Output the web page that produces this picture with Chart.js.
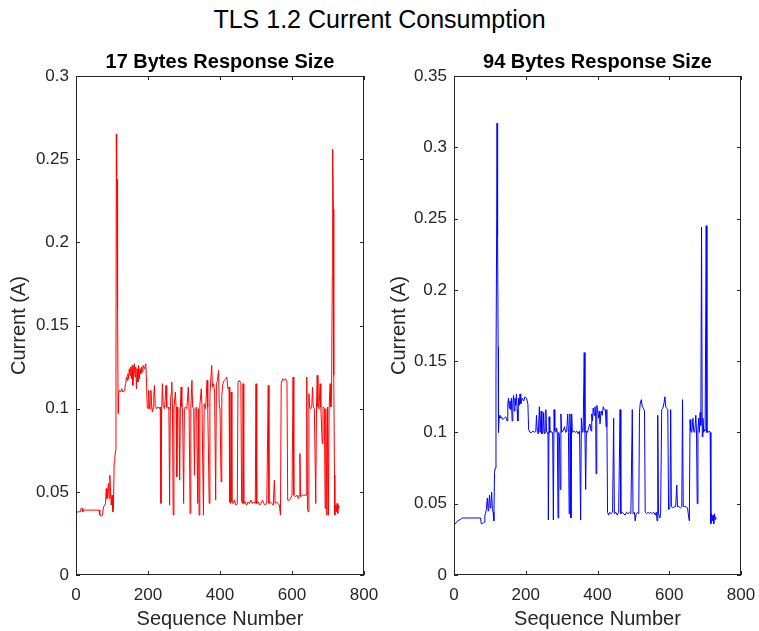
<!DOCTYPE html>
<html>
<head>
<meta charset="utf-8">
<script src="https://cdn.jsdelivr.net/npm/chart.js@4.4.1/dist/chart.umd.min.js"></script>
<style>
  body { margin: 0; background: #fff; width: 759px; height: 631px; position: relative; overflow: hidden; }
  #mainTitle { position: absolute; left: 0; top: 4px; width: 759px; text-align: center;
    font-family: 'Liberation Sans', Arial, sans-serif; font-size: 25px; line-height: 30px; color: #000; }
  canvas { position: absolute; top: 0; }
</style>
</head>
<body>
<div id="mainTitle">TLS 1.2 Current Consumption</div>
<canvas id="left" width="380" height="631" style="left:0"></canvas>
<canvas id="right" width="379" height="631" style="left:380px"></canvas>
<script>
// tick values
const xTicks = [0, 200, 400, 600, 800];
const yTicks17 = [0, 0.05, 0.1, 0.15, 0.2, 0.25, 0.3];
const yTicks94 = [0, 0.05, 0.1, 0.15, 0.2, 0.25, 0.3, 0.35];

// [sequence number, current (A)]
const points17 = [
  [1,0.037],[4,0.038],[8,0.038],[12,0.038],[14,0.040],[17,0.040],[19,0.038],[22,0.039],[26,0.039],
  [35,0.039],[45,0.039],[55,0.039],[64,0.039],[66,0.036],[70,0.0355],[74,0.036],[76,0.041],[80,0.042],
  [82,0.043],[84,0.052],[86,0.046],[88,0.049],[90,0.055],[92,0.046],[94,0.060],[96,0.050],[98,0.042],
  [100,0.048],[102,0.038],[104,0.040],[106,0.068],[108,0.071],[110,0.075],[111,0.12],[112,0.265],
  [113,0.24],[114,0.20],[115,0.238],[116,0.16],[117,0.097],[118,0.108],[120,0.111],[124,0.110],
  [127,0.112],[130,0.110],[134,0.111],[136,0.113],[138,0.115],[140,0.119],[142,0.117],[144,0.121],
  [146,0.118],[148,0.124],[150,0.120],[152,0.125],[154,0.118],[156,0.126],[158,0.114],[160,0.122],
  [162,0.127],[164,0.119],[166,0.125],[168,0.112],[170,0.124],[172,0.116],[174,0.126],[176,0.118],
  [178,0.124],[180,0.121],[182,0.125],[184,0.122],[186,0.126],[190,0.124],[194,0.127],[196,0.115],
  [198,0.101],[200,0.100],[202,0.111],[204,0.101],[206,0.100],[208,0.111],[210,0.103],[212,0.098],
  [214,0.100],[216,0.108],[218,0.114],[220,0.102],[224,0.100],[228,0.101],[232,0.100],[234,0.101],
  [236,0.043],[238,0.100],[240,0.115],[242,0.102],[246,0.100],[250,0.114],[252,0.101],[256,0.100],
  [258,0.101],[260,0.042],[262,0.101],[264,0.109],[266,0.116],[268,0.101],[270,0.036],[272,0.100],
  [276,0.110],[278,0.101],[280,0.059],[282,0.101],[286,0.100],[288,0.057],[290,0.101],[292,0.113],
  [294,0.101],[296,0.100],[299,0.043],[301,0.100],[304,0.101],[308,0.100],[312,0.113],[314,0.101],
  [317,0.037],[319,0.100],[322,0.117],[324,0.101],[327,0.100],[329,0.060],[331,0.100],[335,0.101],
  [338,0.043],[340,0.100],[342,0.036],[344,0.102],[348,0.112],[350,0.101],[354,0.036],[356,0.103],
  [360,0.100],[364,0.117],[366,0.101],[370,0.043],[372,0.108],[374,0.116],[377,0.126],[379,0.113],
  [382,0.115],[385,0.110],[388,0.045],[390,0.115],[393,0.117],[396,0.123],[398,0.101],[400,0.100],
  [403,0.056],[405,0.108],[408,0.115],[412,0.117],[416,0.118],[419,0.119],[422,0.112],[425,0.113],
  [427,0.044],[429,0.043],[431,0.110],[433,0.044],[436,0.043],[440,0.045],[444,0.042],[448,0.043],
  [450,0.116],[454,0.117],[458,0.115],[460,0.044],[463,0.043],[464,0.115],[466,0.043],[470,0.044],
  [474,0.042],[478,0.044],[482,0.043],[486,0.045],[490,0.043],[494,0.044],[498,0.043],[500,0.115],
  [502,0.043],[506,0.044],[510,0.042],[514,0.043],[518,0.045],[522,0.043],[526,0.042],[530,0.044],
  [534,0.114],[536,0.043],[540,0.044],[544,0.043],[548,0.042],[551,0.057],[553,0.043],[557,0.044],
  [561,0.043],[565,0.042],[568,0.036],[570,0.115],[574,0.118],[578,0.117],[582,0.118],[586,0.116],
  [588,0.045],[592,0.045],[596,0.046],[600,0.048],[603,0.119],[605,0.048],[610,0.047],[614,0.048],
  [618,0.046],[620,0.048],[622,0.073],[624,0.047],[628,0.048],[632,0.048],[636,0.048],[640,0.048],
  [641,0.119],[643,0.040],[645,0.038],[647,0.109],[649,0.101],[652,0.100],[655,0.102],[657,0.113],
  [659,0.101],[662,0.100],[666,0.043],[668,0.101],[670,0.120],[672,0.101],[675,0.100],[678,0.115],
  [680,0.101],[684,0.079],[686,0.101],[690,0.100],[692,0.040],[694,0.100],[697,0.036],[699,0.101],
  [701,0.036],[703,0.100],[706,0.115],[708,0.101],[710,0.112],[712,0.18],[713,0.256],[715,0.22],
  [716,0.12],[718,0.06],[719,0.036],[721,0.042],[723,0.038],[725,0.043],[727,0.037],[729,0.042],
  [731,0.040]
];

const points94 = [
  [1,0.037],[4,0.036],[7,0.037],[10,0.038],[14,0.0385],[18,0.039],[24,0.040],[30,0.040],[40,0.040],
  [50,0.040],[60,0.040],[70,0.040],[74,0.040],[76,0.036],[80,0.036],[84,0.037],[86,0.042],[88,0.043],
  [90,0.046],[93,0.054],[95,0.045],[97,0.050],[99,0.056],[101,0.047],[103,0.050],[105,0.058],
  [107,0.046],[109,0.044],[111,0.038],[113,0.072],[115,0.075],[117,0.14],[119,0.25],[120,0.317],
  [121,0.27],[122,0.238],[123,0.16],[124,0.100],[126,0.112],[128,0.110],[132,0.111],[136,0.109],
  [140,0.110],[144,0.111],[146,0.110],[148,0.108],[150,0.120],[152,0.124],[154,0.117],[156,0.122],
  [158,0.116],[160,0.124],[162,0.108],[164,0.121],[166,0.126],[168,0.115],[170,0.124],[172,0.119],
  [174,0.127],[176,0.116],[178,0.108],[180,0.124],[182,0.119],[184,0.127],[186,0.120],[190,0.124],
  [194,0.122],[198,0.125],[202,0.124],[206,0.120],[208,0.102],[212,0.100],[216,0.100],[220,0.101],
  [224,0.100],[228,0.101],[230,0.112],[232,0.101],[235,0.099],[238,0.118],[240,0.100],[243,0.115],
  [245,0.099],[248,0.100],[250,0.114],[252,0.099],[254,0.100],[256,0.116],[258,0.101],[260,0.100],
  [262,0.099],[263,0.0386],[265,0.111],[267,0.100],[270,0.101],[272,0.100],[275,0.100],[277,0.0386],
  [279,0.116],[281,0.101],[284,0.100],[286,0.103],[288,0.100],[290,0.040],[292,0.100],[294,0.097],
  [296,0.060],[298,0.113],[300,0.100],[304,0.101],[308,0.104],[311,0.100],[314,0.101],[317,0.113],
  [319,0.100],[321,0.043],[323,0.113],[325,0.100],[326,0.040],[328,0.113],[330,0.100],[334,0.101],
  [338,0.100],[342,0.101],[346,0.099],[350,0.101],[353,0.0386],[355,0.110],[358,0.100],[360,0.101],
  [363,0.156],[365,0.100],[367,0.060],[369,0.101],[372,0.100],[376,0.104],[379,0.106],[382,0.101],
  [384,0.113],[386,0.108],[388,0.117],[391,0.112],[393,0.118],[395,0.110],[396,0.071],[398,0.119],
  [400,0.116],[403,0.110],[405,0.115],[407,0.106],[410,0.115],[413,0.112],[416,0.118],[419,0.116],
  [422,0.116],[424,0.104],[426,0.116],[428,0.044],[431,0.042],[434,0.044],[438,0.043],[442,0.044],
  [445,0.110],[447,0.043],[451,0.044],[455,0.042],[459,0.044],[463,0.116],[465,0.043],[469,0.044],
  [473,0.043],[477,0.042],[481,0.044],[485,0.043],[489,0.044],[493,0.043],[497,0.116],[499,0.043],
  [503,0.044],[505,0.038],[508,0.043],[512,0.044],[515,0.043],[517,0.114],[519,0.120],[522,0.123],
  [525,0.118],[528,0.117],[531,0.115],[533,0.044],[537,0.043],[541,0.044],[545,0.043],[549,0.044],
  [553,0.043],[557,0.044],[561,0.042],[564,0.044],[566,0.038],[568,0.112],[570,0.043],[574,0.040],
  [576,0.044],[579,0.116],[582,0.117],[585,0.120],[588,0.125],[590,0.118],[593,0.117],[596,0.116],
  [598,0.046],[602,0.047],[604,0.116],[606,0.048],[610,0.047],[614,0.048],[618,0.048],[621,0.063],
  [623,0.048],[627,0.048],[631,0.047],[635,0.048],[637,0.123],[639,0.048],[643,0.048],[647,0.048],
  [651,0.047],[653,0.043],[656,0.038],[658,0.109],[660,0.101],[663,0.100],[666,0.110],[668,0.101],
  [671,0.100],[674,0.112],[676,0.101],[678,0.050],[680,0.101],[682,0.110],[684,0.100],[686,0.114],
  [688,0.105],[690,0.244],[692,0.097],[694,0.110],[696,0.100],[698,0.102],[700,0.101],[703,0.245],
  [705,0.100],[707,0.101],[709,0.100],[712,0.101],[714,0.100],[716,0.036],[718,0.043],[720,0.038],
  [722,0.042],[724,0.036],[726,0.043],[728,0.039],[730,0.041]
];

Chart.defaults.font.family = "'Liberation Sans', Arial, sans-serif";
Chart.defaults.color = '#262626';

// matlab style box with inward ticks
const boxPlugin = {
  id: 'box',
  afterDraw(chart) {
    const {ctx, chartArea: a, scales: {x, y}} = chart;
    const tl = 4;
    ctx.save();
    ctx.strokeStyle = '#262626';
    ctx.lineWidth = 1;
    ctx.strokeRect(Math.round(a.left) + 0.5, Math.round(a.top) + 0.5,
      Math.round(a.right - a.left) - 1, Math.round(a.bottom - a.top) - 1);
    ctx.beginPath();
    x.ticks.forEach(t => {
      const px = Math.round(x.getPixelForValue(t.value)) + 0.5;
      ctx.moveTo(px, a.bottom); ctx.lineTo(px, a.bottom - tl);
      ctx.moveTo(px, a.top); ctx.lineTo(px, a.top + tl);
    });
    y.ticks.forEach(t => {
      const py = Math.round(y.getPixelForValue(t.value)) + 0.5;
      ctx.moveTo(a.left, py); ctx.lineTo(a.left + tl, py);
      ctx.moveTo(a.right, py); ctx.lineTo(a.right - tl, py);
    });
    ctx.stroke();
    ctx.restore();
  }
};

function makeChart(id, title, points, color, yTicks, yWidth, rightPad) {
  const yMax = yTicks[yTicks.length - 1];
  return new Chart(document.getElementById(id), {
    type: 'line',
    data: {
      datasets: [{
        data: points.map(p => ({x: p[0], y: p[1]})),
        borderColor: color,
        borderWidth: 1,
        pointRadius: 0,
        tension: 0,
        fill: false
      }]
    },
    options: {
      responsive: false,
      animation: false,
      layout: {padding: {left: 0, right: rightPad, top: 0, bottom: 0}},
      plugins: {
        legend: {display: false},
        tooltip: {enabled: false},
        title: {
          display: true,
          fullSize: false,
          text: title,
          color: '#000',
          font: {size: 20, weight: 'bold'},
          padding: {top: 50, bottom: 2}
        }
      },
      scales: {
        x: {
          type: 'linear',
          min: xTicks[0],
          max: xTicks[xTicks.length - 1],
          afterBuildTicks: s => { s.ticks = xTicks.map(v => ({value: v})); },
          ticks: {font: {size: 17}, padding: 10, maxRotation: 0},
          grid: {display: false, drawTicks: false, tickLength: 0},
          border: {display: false},
          title: {display: true, text: 'Sequence Number', font: {size: 20}, padding: {top: 1, bottom: 0}},
          afterFit: s => { s.height = 56; s.paddingLeft = 0; s.paddingRight = 0; }
        },
        y: {
          type: 'linear',
          min: 0,
          max: yMax,
          afterBuildTicks: s => { s.ticks = yTicks.map(v => ({value: v})); },
          ticks: {font: {size: 17}, padding: 7, callback: v => String(Math.round(v * 100) / 100)},
          grid: {display: false, drawTicks: false, tickLength: 0},
          border: {display: false},
          title: {display: true, text: 'Current (A)', font: {size: 20}, padding: {top: 7, bottom: 0}},
          afterFit: s => { s.width = yWidth; s.paddingTop = 0; s.paddingBottom = 0; }
        }
      }
    },
    plugins: [boxPlugin]
  });
}

makeChart('left', '17 Bytes Response Size', points17, '#ff0000', yTicks17, 76, 16);
makeChart('right', '94 Bytes Response Size', points94, '#0000ff', yTicks94, 74, 18);
</script>
</body>
</html>
